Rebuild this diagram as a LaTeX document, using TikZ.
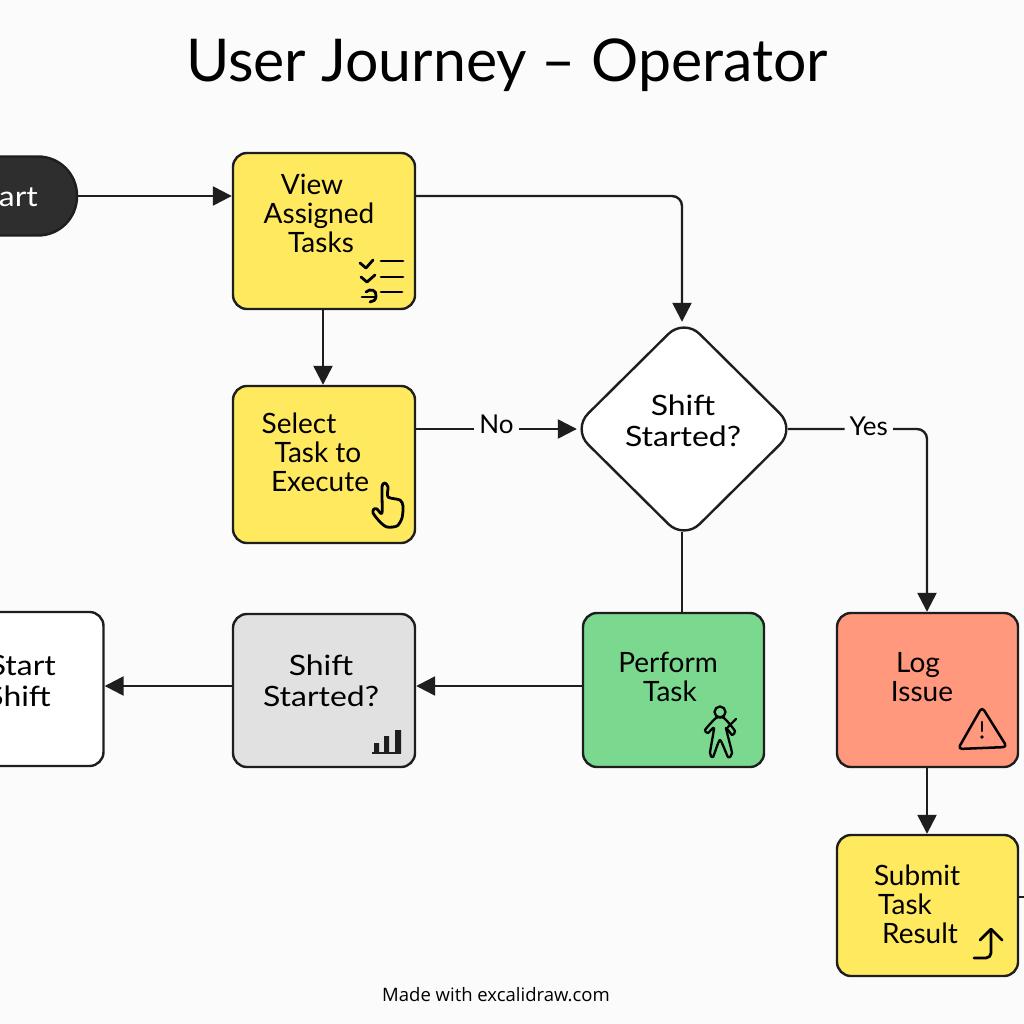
\documentclass[tikz,border=0pt]{standalone}
\usepackage{fontspec}
\setmainfont{Lato}
\newfontfamily\footfont{Open Sans}
\newfontfamily\widefont[FakeStretch=1.14]{Lato}
\usetikzlibrary{arrows.meta,shapes.geometric}
\definecolor{bgc}{HTML}{FBFBFB}
\definecolor{ink}{HTML}{1E1E1E}
\definecolor{yel}{HTML}{FFE95F}
\definecolor{grn}{HTML}{7BD88F}
\definecolor{sal}{HTML}{FF987C}
\definecolor{gry}{HTML}{E1E1E1}
\definecolor{drk}{HTML}{2E2E2E}
\tikzset{
  boxn/.style={draw=ink,line width=2.4pt,rounded corners=14pt,inner sep=0pt},
  txt/.style={align=center,inner sep=0pt,text=black,font=\fontsize{28}{29}\selectfont},
  widetxt/.style={txt,font=\widefont\fontsize{28}{29}\selectfont},
  conn/.style={draw=ink,line width=2.4pt,-{Triangle[length=19pt,width=19pt]}},
  plain/.style={draw=ink,line width=2.4pt},
  edgelbl/.style={fill=bgc,inner sep=5pt,text=black,font=\fontsize{26}{28}\selectfont},
  icon/.style={draw=black,line width=2.8pt,line cap=round,line join=round},
}
\begin{document}
\begin{tikzpicture}[x=1pt,y=-1pt]
\useasboundingbox (0,0) rectangle (1024,1024);
\clip (0,0) rectangle (1024,1024);
\fill[bgc] (0,0) rectangle (1024,1024);
\node[inner sep=0pt,font=\fontsize{59}{62}\selectfont] (title) at (507,65) {User Journey – Operator};
% nodes
\node[boxn,fill=drk,rounded corners=39pt,minimum width=167pt,minimum height=79pt] (start) at (-6.5,196) {};
\node[widetxt,text=white,anchor=east] (startt) at (38,196) {Start};
\node[boxn,fill=yel,minimum width=182pt,minimum height=156pt] (view) at (324,231) {};
\node[txt] (viewt) at (319,213.5) {\hspace*{-14pt}View\\Assigned\\\hspace*{4pt}Tasks};
\node[boxn,fill=yel,minimum width=182pt,minimum height=157pt] (select) at (324,464.5) {};
\node[txt] (selectt) at (316,452) {\hspace*{-34pt}Select\\\hspace*{4pt}Task to\\\hspace*{8pt}Execute};
\node[draw=ink,line width=2.4pt,fill=white,diamond,rounded corners=22pt,inner sep=0pt,minimum width=224pt,minimum height=222pt] (dia) at (684,429) {};
\node[widetxt] (diat) at (683,421) {Shift\\[2pt]Started?};
\node[boxn,fill=gry,minimum width=182pt,minimum height=153pt] (gray) at (324,690.5) {};
\node[widetxt] (grayt) at (321,681) {Shift\\[2pt]Started?};
\node[boxn,fill=white,minimum width=203pt,minimum height=154pt] (white) at (2,689) {};
\node[widetxt,align=right,anchor=east] (whitet) at (56,681) {Start\\[2pt]Shift\hspace*{5pt}};
\node[boxn,fill=grn,minimum width=181pt,minimum height=154pt] (green) at (673.5,690) {};
\node[txt] (greent) at (668,676.5) {Perform\\\hspace*{4pt}Task};
\node[boxn,fill=sal,minimum width=181pt,minimum height=154pt] (red) at (927.5,690) {};
\node[txt] (redt) at (922,677.5) {\hspace*{-8pt}Log\\Issue};
\node[boxn,fill=yel,minimum width=181pt,minimum height=141pt] (submit) at (927.5,905.5) {};
\node[txt] (submitt) at (915,904) {\hspace*{4pt}Submit\\\hspace*{-20pt}Task\\\hspace*{10pt}Result};
\coordinate (offr) at (1030,897);
% connectors
\draw[conn] (start) -- (view.west |- start);
\draw[conn,rounded corners=10pt] (view.east |- start) -- (start -| 682,0) -- ([yshift=-5pt]dia.north -| 682,0);
\draw[conn] (view.south -| 323,0) -- (select.north -| 323,0);
\draw[conn] (select.east |- dia) -- node[edgelbl,pos=.5,yshift=5pt] (no) {No} ([xshift=6pt]dia.west);
\draw[conn,rounded corners=10pt] ([xshift=-9pt]dia.east) -- node[edgelbl,pos=.58,yshift=3pt] (yes) {Yes} (dia -| 927,0) -- (red.north -| 927,0);
\draw[plain] ([yshift=9pt]dia.south -| 682,0) -- (green.north -| 682,0);
\draw[conn] (green.west |- 0,686) -- (gray.east |- 0,686);
\draw[conn] (gray.west |- 0,686) -- (white.east |- 0,686);
\draw[conn] (red.south -| 927,0) -- (submit.north -| 927,0);
\draw[plain] (submit.east |- offr) -- (offr);
% icons
\draw[icon] (360,263) -- (366,268) -- (373,260);
\draw[icon] (381,261) -- (403,261);
\draw[icon] (361,277) -- (367,282) -- (375,275);
\draw[icon] (381,277) -- (403,277);
\draw[icon] (362,297) -- (376,297);
\draw[icon] (366,292) .. controls (370,288) and (377,290) .. (376,296) .. controls (376,300) and (373,302) .. (370,302);
\draw[icon] (381,292) -- (402,292);
\draw[icon] plot[smooth cycle,tension=.45] coordinates {(382,487) (385,483) (388,487) (388,497) (400,500) (403,506) (402,518) (397,526) (387,527) (380,522) (373,513) (374,509) (377,509) (382,513)};
\draw[icon,line width=2.3pt] (720,712) circle (5.5pt);
\draw[icon,line width=2.3pt] plot[smooth cycle,tension=.35] coordinates {(716,718) (705,730) (708,733) (714,728) (710,753) (713,757) (720,740) (728,757) (732,753) (726,728) (732,735) (735,731) (724,718)};
\draw[icon,line width=2.3pt] (728,727) -- (736,719);
\draw[icon,line width=2.5pt,rounded corners=4pt] (982,707) -- (1007,747) -- (958,749) -- cycle;
\draw[icon,line width=2.5pt] (982,722) -- (982,731);
\fill[black] (982,737) circle (1.8pt);
\draw[icon,rounded corners=5pt] (974,958) -- (991,958) -- (991,930);
\draw[icon] (980,940) -- (991,929) -- (1002,940);
\fill[ink] (374,743) rectangle (379,753) (384,736) rectangle (389,753) (395,730) rectangle (401,753);
\draw[ink,line width=2pt] (372,753) -- (401,753);
\node[inner sep=0pt,font=\footfont\fontsize{18.5}{20}\selectfont] (foot) at (496,995) {Made with excalidraw.com};
\end{tikzpicture}
\end{document}
